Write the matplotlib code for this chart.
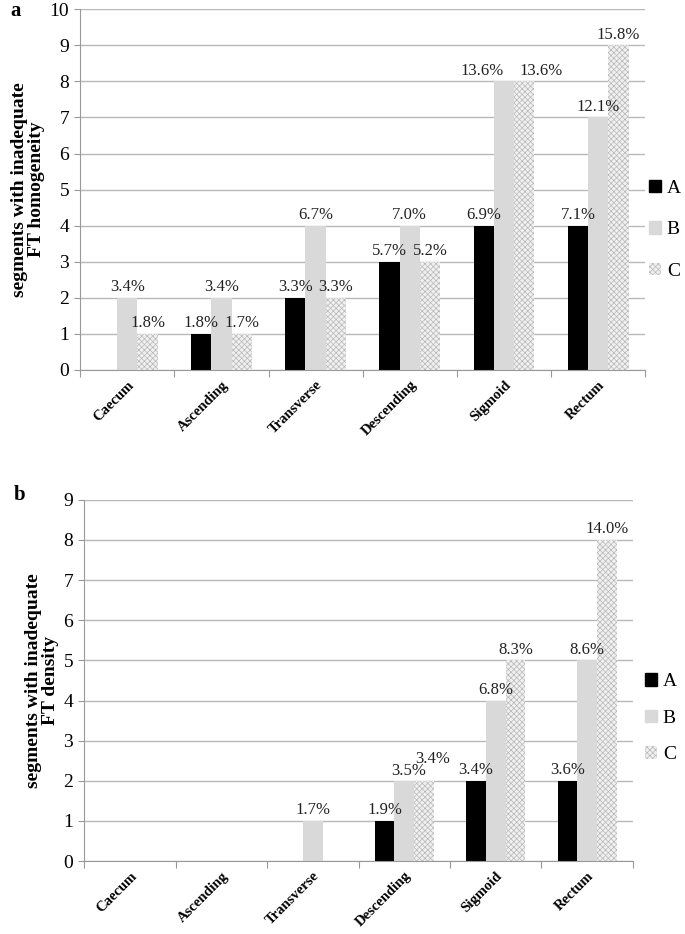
import matplotlib
matplotlib.use("Agg")
import matplotlib.pyplot as plt
import numpy as np
from matplotlib.patches import Patch

plt.rcParams['font.family'] = ['Liberation Serif', 'DejaVu Serif']
plt.rcParams['hatch.linewidth'] = 0.5

# data
segments = ['Caecum', 'Ascending', 'Transverse', 'Descending', 'Sigmoid', 'Rectum']
groups = ['A', 'B', 'C']

# panel a - inadequate FT homogeneity
homog_A = [0, 1, 2, 3, 4, 4]
homog_B = [2, 2, 4, 4, 8, 7]
homog_C = [1, 1, 2, 3, 8, 9]
homog_pct_A = ['', '1.8%', '3.3%', '5.7%', '6.9%', '7.1%']
homog_pct_B = ['3.4%', '3.4%', '6.7%', '7.0%', '13.6%', '12.1%']
homog_pct_C = ['1.8%', '1.7%', '3.3%', '5.2%', '13.6%', '15.8%']

# panel b - inadequate FT density
dens_A = [0, 0, 0, 1, 2, 2]
dens_B = [0, 0, 1, 2, 4, 5]
dens_C = [0, 0, 0, 2, 5, 8]
dens_pct_A = ['', '', '', '1.9%', '3.4%', '3.6%']
dens_pct_B = ['', '', '1.7%', '3.5%', '6.8%', '8.6%']
dens_pct_C = ['', '', '', '3.4%', '8.3%', '14.0%']

styles = [
    dict(color='black'),
    dict(color='#d9d9d9'),
    dict(facecolor='#f0f0f0', edgecolor='#b8b8b8', hatch='xxxxxx', linewidth=0),
]

fig = plt.figure(figsize=(6.85, 9.34), dpi=100)


def draw_panel(ax, series, pcts, ymax, ylabel, nudge=None):
    x = np.arange(len(segments))
    w = 0.215
    for i, (vals, labs) in enumerate(zip(series, pcts)):
        pos = x + (i - 1) * w
        ax.bar(pos, vals, width=w, zorder=2, **styles[i])
        for j, (v, lab) in enumerate(zip(vals, labs)):
            if not lab:
                continue
            dx, dy = nudge.get((i, j), (0, 0)) if nudge else (0, 0)
            ax.annotate(lab, (pos[j], v), xytext=(dx, 2 + dy), textcoords='offset points',
                        ha='center', va='bottom', fontsize=12, color='#222222', zorder=3)
    ax.set_xlim(-0.5, len(segments) - 0.5)
    ax.set_ylim(0, ymax)
    ax.set_yticks(range(ymax + 1))
    ax.tick_params(axis='y', labelsize=14, length=4, color='#999999', pad=4)
    ax.set_xticks(np.arange(-0.5, len(segments) + 0.5))
    ax.set_xticklabels([])
    ax.set_xticks(x, minor=True)
    ax.set_xticklabels(segments, minor=True, rotation=45, ha='right', rotation_mode='anchor',
                       fontsize=10.5, fontweight='bold')
    ax.tick_params(axis='x', which='major', length=5, color='#999999')
    ax.tick_params(axis='x', which='minor', length=0, pad=6)
    ax.grid(axis='y', color='#b8b8b8', linewidth=1, zorder=0)
    ax.set_axisbelow(True)
    for s in ['top', 'right']:
        ax.spines[s].set_visible(False)
    for s in ['left', 'bottom']:
        ax.spines[s].set_color('#999999')
    ax.set_ylabel(ylabel, fontsize=14, fontweight='bold', labelpad=3, linespacing=1.0)


ax1 = fig.add_axes([0.117, 0.604, 0.825, 0.386])
draw_panel(ax1, [homog_A, homog_B, homog_C], [homog_pct_A, homog_pct_B, homog_pct_C], 10,
           'segments with inadequate\nFT homogeneity', nudge={(1, 4): (-16, 0), (2, 4): (12, 0)})

ax2 = fig.add_axes([0.123, 0.078, 0.801, 0.387])
draw_panel(ax2, [dens_A, dens_B, dens_C], [dens_pct_A, dens_pct_B, dens_pct_C], 9,
           'segments with inadequate\nFT density', nudge={(2, 3): (6, 8), (1, 3): (3, -1)})

handles = [Patch(**styles[i], label=groups[i]) for i in range(3)]
fig.legend(handles=handles, loc='center left', bbox_to_anchor=(0.948, 0.754), frameon=False,
           fontsize=14, handlelength=0.6, handleheight=0.6, handletextpad=0.3,
           labelspacing=1.25, borderpad=0, borderaxespad=0)
fig.legend(handles=handles, loc='center left', bbox_to_anchor=(0.942, 0.231), frameon=False,
           fontsize=14, handlelength=0.6, handleheight=0.6, handletextpad=0.3,
           labelspacing=1.0, borderpad=0, borderaxespad=0)

fig.text(0.015, 0.988, 'a', fontsize=15, fontweight='bold', ha='left', va='center')
fig.text(0.02, 0.47, 'b', fontsize=15, fontweight='bold', ha='left', va='center')

fig.savefig('out.png', dpi=100)
